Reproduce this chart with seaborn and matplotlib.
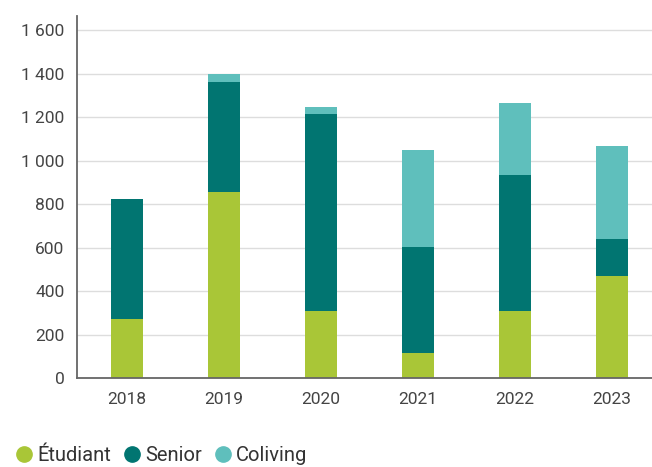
import matplotlib
matplotlib.use("Agg")
import matplotlib.pyplot as plt
from matplotlib.lines import Line2D
import seaborn as sns
import numpy as np
import pandas as pd

years = ["2018", "2019", "2020", "2021", "2022", "2023"]
etudiant = [270, 855, 310, 115, 310, 470]
senior = [555, 505, 905, 487, 625, 170]
coliving = [0, 40, 30, 447, 330, 427]
series_names = ["Étudiant", "Senior", "Coliving"]
colors = ["#A9C637", "#017571", "#5FBFBC"]
yticks = [0, 200, 400, 600, 800, 1000, 1200, 1400, 1600]
ytick_labels = ["0", "200", "400", "600", "800", "1 000", "1 200", "1 400", "1 600"]

sns.set_theme(style="white")
plt.rcParams["font.family"] = ["Roboto", "DejaVu Sans"]

fig = plt.figure(figsize=(6.52, 4.67), dpi=100)
ax = fig.add_axes([0.118, 0.1906, 0.882, 0.775])

e = np.array(etudiant)
s = np.array(senior)
c = np.array(coliving)
df = pd.DataFrame({"year": years, "l1": e, "l2": e + s, "l3": e + s + c})

for col, color in zip(["l3", "l2", "l1"], [colors[2], colors[1], colors[0]]):
    sns.barplot(data=df, x="year", y=col, color=color, width=0.33,
                saturation=1, ax=ax, linewidth=0, zorder=3)

ax.set_xlim(-0.515, 5.41)
ax.set_ylim(0, 1665)
ax.set_yticks(yticks)
ax.set_yticklabels(ytick_labels)
ax.set_xlabel("")
ax.set_ylabel("")
ax.yaxis.grid(True, color="#DDDDDD", linewidth=1, zorder=0)
ax.xaxis.grid(False)
ax.set_axisbelow(True)
for sp in ["top", "right"]:
    ax.spines[sp].set_visible(False)
for sp in ["left", "bottom"]:
    ax.spines[sp].set_color("#666666")
    ax.spines[sp].set_linewidth(1.3)
    ax.spines[sp].set_zorder(4)
ax.tick_params(axis="both", length=0, labelsize=12.5, colors="#444444")
ax.tick_params(axis="y", pad=9)
ax.tick_params(axis="x", pad=10)

handles = [Line2D([0], [0], marker="o", linestyle="", markersize=11,
                  markerfacecolor=col, markeredgecolor=col) for col in colors]
fig.legend(handles, series_names, loc="lower left", bbox_to_anchor=(-0.008, -0.035),
           ncol=3, frameon=False, fontsize=14.5, handletextpad=0.1,
           columnspacing=0.5, labelcolor="#333333", handlelength=1.1)

fig.savefig("out.png", dpi=100)
